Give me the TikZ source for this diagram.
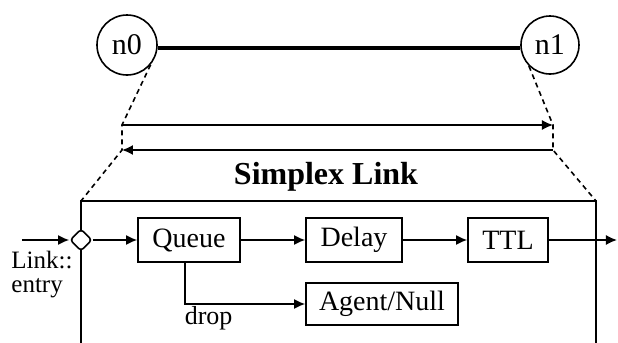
\documentclass[tikz,border=0pt]{standalone}
\usepackage{fontspec}
\setmainfont{Liberation Serif}
\usetikzlibrary{arrows.meta,shapes.geometric,positioning}

\begin{document}
\begin{tikzpicture}[
    x=0.5pt, y=-0.5pt,
    node_circle/.style={draw, circle, line width=0.8pt, inner sep=0pt, font=\fontsize{15}{17}\selectfont},
    block/.style={draw, rectangle, line width=0.8pt, inner sep=0pt, minimum height=22pt, font=\fontsize{14}{16}\selectfont},
    flow/.style={draw, line width=0.8pt, -{Latex[length=5.5pt,width=5pt]}},
    plain_line/.style={draw, line width=0.8pt},
    dashed_line/.style={draw, line width=0.8pt, dash pattern=on 2.5pt off 2pt}
]
    \useasboundingbox (0,0) rectangle (618,343);

    % Define coordinates
    \def\topY{45}
    \def\fwdY{125}
    \def\revY{150}
    \def\boxY{201}
    \def\rowY{240}

    % Nodes of the link
    \node[node_circle, minimum size=30pt] (n0) at (127,\topY) {n0};
    \node[node_circle, minimum size=29pt] (n1) at (550,\topY) {n1};
    \draw[line width=1.6pt] ([yshift=-1.5pt]n0.east) -- ([yshift=-1.5pt]n1.west);

    % Both directions of the link
    \coordinate (fwdStart) at (122,\fwdY);
    \coordinate (fwdEnd) at (553,\fwdY);
    \coordinate (revStart) at (553,\revY);
    \coordinate (revEnd) at (122,\revY);
    \draw[flow] (fwdStart) -- (fwdEnd);
    \draw[flow] (revStart) -- (revEnd);

    % Simplex link box (open at the bottom)
    \coordinate (boxTL) at (81,\boxY);
    \coordinate (boxTR) at (596,\boxY);
    \coordinate (boxBL) at (81,343);
    \coordinate (boxBR) at (596,343);
    \draw[plain_line] (boxBL) -- (boxTL) -- (boxTR) -- (boxBR);
    \node[font=\fontsize{16}{18}\selectfont\bfseries] (title) at (326,177) {Simplex Link};

    % Zoom lines
    \draw[dashed_line] (n0.-40) -- (fwdStart) -- (revEnd) -- (boxTL);
    \draw[dashed_line] (n1.-135) -- (fwdEnd) -- (revStart) -- (boxTR);

    % Objects inside the link
    \node[draw, diamond, rounded corners=1.5pt, line width=0.8pt, fill=white,
          inner sep=0pt, minimum size=11pt] (entry) at (81,\rowY) {};
    \node[block, minimum width=51pt] (queue) at (189,\rowY) {Queue};
    \node[block, minimum width=48pt] (delay) at (354,\rowY) {Delay};
    \node[block, minimum width=40pt] (ttl) at (508,\rowY) {TTL};
    \node[block, minimum width=76pt, minimum height=21pt] (agent) at (382,304) {Agent/Null};

    % Labels
    \node[align=left, inner sep=0pt, font=\fontsize{12.5}{12}\selectfont] (entryLabel) at (42,275) {Link::\\entry};

    % Packet flow
    \coordinate (inPoint) at (22,\rowY);
    \coordinate (outPoint) at (617,\rowY);
    \draw[flow] (inPoint) -- (entry);
    \draw[flow] (entry) -- (queue);
    \draw[flow] (queue) -- (delay);
    \draw[flow] (delay) -- (ttl);
    \draw[flow] (ttl) -- (outPoint);
    \draw[flow] ([xshift=-2pt]queue.south) |- (agent.west)
        node[pos=0.5, below right, xshift=-1.5pt, inner sep=1pt, font=\fontsize{13}{15}\selectfont] (dropLabel) {drop};

\end{tikzpicture}
\end{document}
